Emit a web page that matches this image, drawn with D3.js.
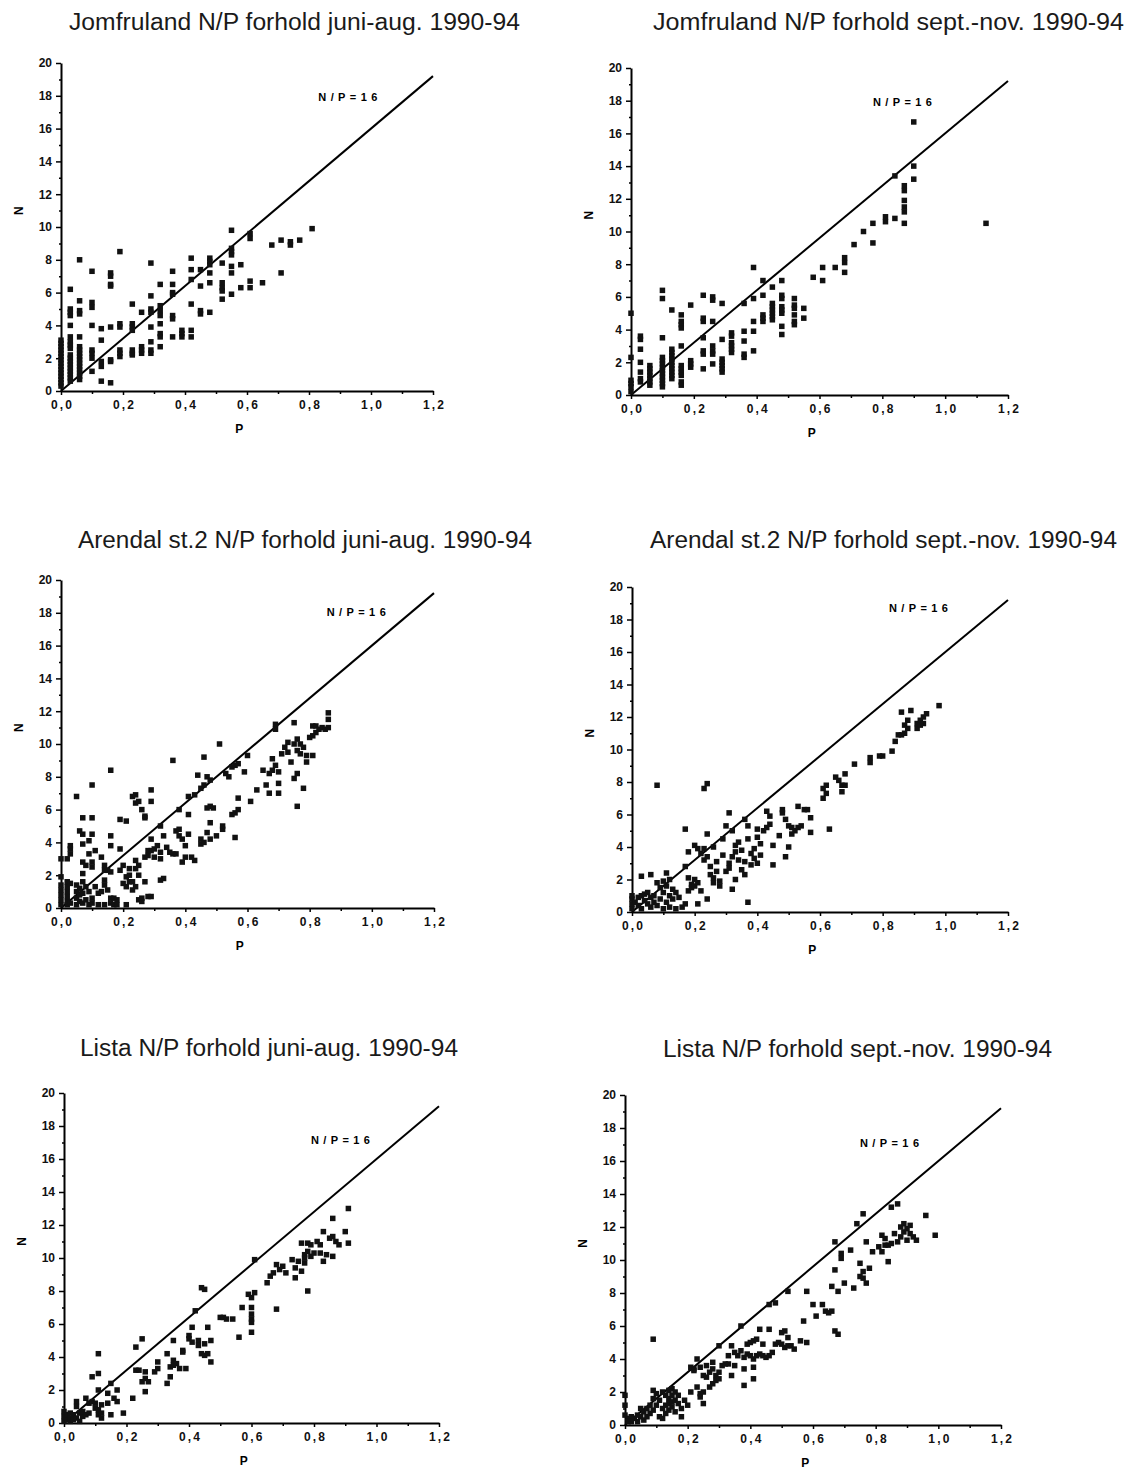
<!DOCTYPE html>
<html>
<head>
<meta charset="utf-8">
<script src="https://cdn.jsdelivr.net/npm/d3@7"></script>
<style>
  body { margin: 0; background: #fff; }
  svg { display: block; }
</style>
</head>
<body>
<svg id="chart" width="1126" height="1471"></svg>
<script>
// N/P ratio scatter plots for three stations, summer and autumn 1990-94
const titles = [
  "Jomfruland N/P forhold juni-aug. 1990-94",
  "Jomfruland N/P forhold sept.-nov. 1990-94",
  "Arendal st.2 N/P forhold juni-aug. 1990-94",
  "Arendal st.2 N/P forhold sept.-nov. 1990-94",
  "Lista N/P forhold juni-aug. 1990-94",
  "Lista N/P forhold sept.-nov. 1990-94"
];
const xTicks = [0, 0.2, 0.4, 0.6, 0.8, 1.0, 1.2];
const yTicks = [0, 2, 4, 6, 8, 10, 12, 14, 16, 18, 20];
const xLabel = "P";
const yLabel = "N";
const ratioNP = 16;
const ratioLabel = "N/P=16";

// [P, N] pairs
const jomfrulandSummer = [
  [0,0.3],[0,0.5],[0,0.7],[0,0.9],[0,1.1],[0,1.3],[0,1.5],[0,1.7],[0,1.9],[0,2.1],[0,2.3],[0,2.5],[0,2.7],[0,2.9],[0,3.1],
  [0.03,6.2],[0.03,5.0],[0.03,4.8],[0.03,4.6],[0.03,4.0],[0.03,3.3],[0.03,3.0],[0.03,2.8],[0.03,2.6],[0.03,2.2],[0.03,2.0],[0.03,1.8],[0.03,1.6],[0.03,1.4],[0.03,1.2],[0.03,1.0],[0.03,0.8],[0.03,0.6],
  [0.06,8.0],[0.06,5.5],[0.06,4.9],[0.06,4.7],[0.06,3.3],[0.06,2.7],[0.06,2.5],[0.06,2.3],[0.06,2.1],[0.06,1.9],[0.06,1.7],[0.06,1.5],[0.06,1.3],[0.06,1.1],[0.06,0.9],[0.06,0.7],
  [0.10,7.3],[0.10,5.4],[0.10,5.1],[0.10,4.0],[0.10,2.5],[0.10,2.3],[0.10,2.0],[0.10,1.2],
  [0.13,3.8],[0.13,3.1],[0.13,1.8],[0.13,1.5],[0.13,0.6],
  [0.16,7.2],[0.16,7.0],[0.16,6.5],[0.16,6.4],[0.16,3.9],[0.16,1.9],[0.16,1.8],[0.16,0.5],
  [0.19,8.5],[0.19,4.1],[0.19,3.9],[0.19,2.5],[0.19,2.3],[0.19,2.1],
  [0.23,5.3],[0.23,4.1],[0.23,3.9],[0.23,3.7],[0.23,2.5],[0.23,2.3],[0.23,2.2],
  [0.26,4.8],[0.26,2.7],[0.26,2.5],[0.26,2.3],
  [0.29,7.8],[0.29,5.8],[0.29,5.0],[0.29,4.8],[0.29,3.9],[0.29,3.0],[0.29,2.5],[0.29,2.3],
  [0.32,6.5],[0.32,5.2],[0.32,4.9],[0.32,4.6],[0.32,4.1],[0.32,3.5],[0.32,3.3],[0.32,2.7],
  [0.36,7.3],[0.36,6.5],[0.36,6.0],[0.36,5.9],[0.36,4.6],[0.36,4.4],[0.36,3.3],
  [0.39,3.7],[0.39,3.5],[0.39,3.3],
  [0.42,8.1],[0.42,7.4],[0.42,6.8],[0.42,5.3],[0.42,3.7],[0.42,3.3],
  [0.45,7.4],[0.45,6.4],[0.45,4.9],[0.45,4.7],
  [0.48,8.1],[0.48,7.9],[0.48,7.7],[0.48,7.2],[0.48,6.6],[0.48,4.8],
  [0.52,7.8],[0.52,6.6],[0.52,6.3],[0.52,6.1],[0.52,5.6],
  [0.55,9.8],[0.55,8.7],[0.55,8.5],[0.55,8.3],[0.55,7.6],[0.55,7.2],[0.55,5.9],
  [0.58,7.7],[0.58,6.3],
  [0.61,9.6],[0.61,9.3],[0.61,6.7],[0.61,6.3],
  [0.65,6.6],[0.68,8.9],[0.71,9.2],[0.71,7.2],[0.74,9.1],[0.74,8.9],[0.77,9.2],[0.81,9.9]
];

const jomfrulandAutumn = [
  [0,5.0],[0,2.3],[0,0.9],[0,0.7],[0,0.5],[0,0.2],
  [0.03,3.6],[0.03,3.4],[0.03,2.8],[0.03,2.0],[0.03,1.4],[0.03,1.0],[0.03,0.8],
  [0.06,1.8],[0.06,1.6],[0.06,1.4],[0.06,1.2],[0.06,1.0],[0.06,0.8],[0.06,0.6],
  [0.10,6.4],[0.10,5.9],[0.10,3.5],[0.10,2.3],[0.10,2.1],[0.10,1.9],[0.10,1.7],[0.10,1.5],[0.10,1.3],[0.10,1.1],[0.10,0.9],[0.10,0.7],[0.10,0.5],
  [0.13,5.2],[0.13,2.8],[0.13,2.6],[0.13,2.4],[0.13,2.2],[0.13,2.0],[0.13,1.8],[0.13,1.6],[0.13,1.4],[0.13,1.2],[0.13,1.0],
  [0.16,4.9],[0.16,4.5],[0.16,4.3],[0.16,4.1],[0.16,3.0],[0.16,1.8],[0.16,1.6],[0.16,1.4],[0.16,1.2],[0.16,0.8],[0.16,0.6],
  [0.19,5.5],[0.19,2.1],[0.19,1.9],[0.19,1.7],
  [0.23,6.1],[0.23,4.7],[0.23,4.5],[0.23,3.5],[0.23,2.7],[0.23,2.5],[0.23,1.6],
  [0.26,6.0],[0.26,5.8],[0.26,4.5],[0.26,3.0],[0.26,2.7],[0.26,2.5],[0.26,1.9],
  [0.29,5.6],[0.29,3.4],[0.29,2.2],[0.29,2.0],[0.29,1.8],[0.29,1.6],[0.29,1.4],
  [0.32,3.8],[0.32,3.6],[0.32,3.2],[0.32,3.0],[0.32,2.8],[0.32,2.6],
  [0.36,5.6],[0.36,3.9],[0.36,3.3],[0.36,2.5],[0.36,2.3],
  [0.39,7.8],[0.39,5.9],[0.39,4.5],[0.39,3.9],[0.39,2.7],
  [0.42,7.0],[0.42,6.1],[0.42,4.9],[0.42,4.7],[0.42,4.5],
  [0.45,6.6],[0.45,5.6],[0.45,5.4],[0.45,5.2],[0.45,5.0],[0.45,4.8],[0.45,4.6],
  [0.48,7.0],[0.48,6.1],[0.48,5.9],[0.48,5.4],[0.48,5.2],[0.48,5.0],[0.48,4.2],[0.48,3.7],
  [0.52,5.9],[0.52,5.5],[0.52,5.3],[0.52,4.9],[0.52,4.5],[0.52,4.3],
  [0.55,5.3],[0.55,4.7],
  [0.58,7.2],[0.61,7.8],[0.61,7.0],[0.65,7.8],[0.68,8.4],[0.68,8.1],[0.68,7.5],[0.71,9.2],
  [0.74,10.0],[0.77,10.5],[0.77,9.3],[0.81,10.9],[0.81,10.6],[0.84,13.4],[0.84,10.8],
  [0.87,12.8],[0.87,12.5],[0.87,11.9],[0.87,11.5],[0.87,11.2],[0.87,10.5],
  [0.90,16.7],[0.90,14.0],[0.90,13.2],[1.13,10.5]
];

const arendalSummer = [
  [0,0.2],[0,0.5],[0,0.8],[0,1.1],[0,1.4],[0,1.9],[0,3.0],
  [0.02,0.2],[0.02,0.4],[0.02,0.7],[0.02,1.0],[0.02,1.3],[0.02,1.6],[0.02,3.0],
  [0.03,3.3],[0.03,3.6],[0.03,3.8],[0.03,1.5],[0.03,0.3],
  [0.05,6.8],[0.05,0.2],[0.05,0.6],[0.05,1.0],[0.05,1.4],
  [0.06,4.7],[0.06,1.2],[0.06,0.4],[0.06,0.8],
  [0.07,5.5],[0.07,4.5],[0.07,3.9],[0.07,2.8],[0.07,2.1],[0.07,1.6],[0.07,0.3],[0.07,0.9],
  [0.08,1.3],[0.08,0.5],[0.08,2.6],
  [0.09,3.3],[0.09,4.1],[0.09,1.0],[0.09,0.2],
  [0.10,7.5],[0.10,5.5],[0.10,4.5],[0.10,2.8],[0.10,2.5],[0.10,0.6],[0.10,0.3],
  [0.11,3.5],[0.11,1.3],[0.12,0.2],[0.12,0.9],
  [0.13,3.1],[0.13,1.0],[0.14,2.6],[0.14,2.3],[0.14,1.7],[0.14,1.4],[0.14,0.2],
  [0.15,1.1],[0.15,2.3],[0.16,8.4],[0.16,4.4],[0.16,3.8],[0.16,2.2],[0.16,0.6],[0.16,0.3],
  [0.17,0.6],[0.17,0.2],[0.18,0.5],[0.18,0.2],
  [0.19,5.4],[0.19,3.6],[0.19,2.3],[0.20,1.5],[0.20,2.6],[0.21,5.3],[0.21,0.2],[0.21,1.9],[0.21,1.3],
  [0.22,2.0],[0.22,1.6],[0.22,2.4],[0.23,6.8],[0.23,1.1],[0.23,1.6],
  [0.24,6.9],[0.24,6.4],[0.24,2.9],[0.24,2.4],[0.24,1.3],[0.25,6.5],[0.25,0.5],[0.25,2.0],[0.25,2.6],
  [0.26,6.0],[0.26,0.4],[0.26,0.6],[0.27,5.6],[0.27,5.5],[0.27,1.6],[0.27,3.1],
  [0.28,3.5],[0.28,3.2],[0.28,0.7],[0.29,7.2],[0.29,6.5],[0.29,4.2],[0.29,3.5],[0.29,0.7],
  [0.30,3.6],[0.30,3.1],[0.31,3.8],[0.32,3.0],[0.32,3.4],[0.32,5.0],[0.32,1.7],[0.33,4.4],[0.33,1.8],
  [0.34,3.7],[0.35,3.4],[0.36,9.0],[0.36,3.3],[0.37,3.3],[0.37,4.7],[0.38,4.8],[0.38,6.0],[0.38,4.4],
  [0.39,2.8],[0.39,4.2],[0.40,3.8],[0.40,3.1],[0.41,5.7],[0.41,4.5],[0.41,6.8],[0.42,3.1],[0.43,6.9],[0.43,2.9],
  [0.44,8.1],[0.45,7.3],[0.45,4.2],[0.45,3.9],[0.46,9.2],[0.46,7.5],[0.46,4.0],[0.47,8.0],[0.47,4.6],[0.47,6.1],
  [0.48,7.8],[0.48,6.2],[0.48,5.2],[0.48,4.2],
  [0.49,6.1],[0.50,4.4],[0.51,10.0],[0.52,4.8],[0.52,5.0],[0.53,8.2],[0.54,8.0],[0.55,5.7],[0.55,8.6],
  [0.56,4.3],[0.56,5.8],[0.56,8.7],[0.57,6.7],[0.57,6.0],[0.57,8.8],
  [0.59,8.3],[0.60,9.3],[0.61,6.5],[0.63,7.2],[0.65,8.4],[0.66,7.5],[0.67,8.2],[0.67,7.0],[0.68,9.1],[0.68,8.4],
  [0.69,11.2],[0.69,10.9],[0.69,8.7],[0.70,7.6],[0.70,7.0],[0.70,8.3],
  [0.71,9.4],[0.72,9.8],[0.73,9.5],[0.73,10.1],[0.74,8.9],[0.75,11.3],[0.75,10.0],[0.75,7.9],
  [0.76,9.6],[0.76,10.3],[0.76,8.2],[0.76,6.2],[0.77,9.4],[0.77,10.0],[0.78,7.3],[0.78,9.8],[0.79,9.3],[0.79,8.9],
  [0.80,10.4],[0.81,10.5],[0.81,11.1],[0.81,9.3],[0.82,11.1],[0.82,10.7],[0.83,10.9],[0.84,11.0],[0.85,10.9],
  [0.86,11.9],[0.86,11.5],[0.86,11.0]
];

const arendalAutumn = [
  [0,0.2],[0,0.5],[0,0.8],[0,1.0],[0.01,0.6],[0.02,0.9],[0.02,0.4],[0.03,2.2],[0.03,1.0],[0.03,0.2],
  [0.04,0.7],[0.04,1.1],[0.05,0.5],[0.05,1.2],[0.06,2.3],[0.06,0.9],[0.06,0.3],[0.07,0.6],[0.07,1.0],
  [0.08,7.8],[0.08,1.8],[0.08,0.4],[0.09,0.8],[0.09,1.5],[0.10,1.9],[0.10,0.2],[0.10,1.2],
  [0.11,2.4],[0.11,0.6],[0.11,1.6],[0.12,2.0],[0.12,1.0],[0.12,0.3],[0.13,1.4],[0.13,0.8],
  [0.14,1.2],[0.14,0.2],[0.15,0.9],[0.16,0.3],[0.17,0.5],
  [0.17,5.1],[0.17,2.8],[0.18,3.7],[0.18,2.1],[0.18,1.3],[0.19,1.7],[0.19,1.5],[0.20,4.1],[0.20,2.0],[0.20,1.6],
  [0.21,3.9],[0.21,1.8],[0.21,0.5],[0.22,3.6],[0.22,1.3],[0.23,7.6],[0.23,3.9],[0.23,3.2],
  [0.24,7.9],[0.24,3.4],[0.24,4.8],[0.24,0.8],[0.25,2.3],[0.25,2.8],[0.26,4.0],[0.26,2.1],[0.26,1.8],
  [0.27,2.5],[0.27,3.1],[0.28,1.6],[0.28,1.9],[0.29,3.5],[0.29,4.5],[0.30,5.3],[0.30,2.5],
  [0.31,6.1],[0.31,3.0],[0.31,2.7],[0.32,5.0],[0.32,3.4],[0.32,1.4],[0.33,4.1],[0.33,3.7],[0.33,2.0],
  [0.34,4.3],[0.34,3.2],[0.35,2.6],[0.35,3.8],[0.36,5.7],[0.36,3.1],[0.36,2.3],[0.37,4.5],[0.37,0.6],[0.37,5.3],
  [0.38,3.6],[0.38,2.9],[0.39,3.3],[0.39,3.9],[0.40,5.1],[0.40,4.6],[0.40,3.0],[0.41,4.2],[0.41,3.5],
  [0.42,5.0],[0.43,5.2],[0.43,6.2],[0.44,5.9],[0.44,5.4],[0.45,2.9],[0.45,4.1],[0.47,4.7],
  [0.48,6.1],[0.48,6.3],[0.49,5.7],[0.49,3.4],[0.50,4.0],[0.50,5.3],[0.51,4.8],[0.51,5.2],[0.52,5.0],
  [0.53,6.5],[0.53,5.2],[0.54,5.3],[0.55,6.3],[0.56,6.3],[0.57,5.8],[0.57,4.9],
  [0.61,7.0],[0.61,7.6],[0.62,7.3],[0.62,7.8],[0.63,5.1],[0.65,8.3],[0.66,8.1],[0.67,7.4],[0.67,7.8],
  [0.68,8.5],[0.68,7.8],[0.71,9.1],[0.76,9.2],[0.76,9.5],[0.79,9.6],[0.80,9.6],[0.83,9.9],[0.84,10.5],
  [0.85,10.9],[0.86,10.9],[0.86,12.3],[0.87,11.0],[0.87,11.5],[0.88,11.8],[0.88,11.3],[0.89,12.4],
  [0.91,11.3],[0.91,11.6],[0.92,11.8],[0.92,11.5],[0.93,12.0],[0.93,11.6],[0.94,12.2],[0.98,12.7]
];

const listaSummer = [
  [0,0.1],[0,0.4],[0,0.7],[0.01,0.2],[0.01,0.5],[0.02,0.1],[0.02,0.3],[0.02,0.6],[0.03,0.2],[0.03,0.5],
  [0.04,1.3],[0.04,1.0],[0.04,0.3],[0.05,0.6],[0.05,0.1],[0.06,0.4],[0.06,0.7],[0.07,1.5],[0.07,0.5],
  [0.08,0.6],[0.08,1.2],[0.09,2.8],[0.09,1.3],[0.10,1.2],[0.10,0.9],
  [0.11,4.2],[0.11,3.0],[0.11,2.0],[0.11,0.8],[0.11,0.5],[0.12,1.1],[0.12,0.3],[0.12,0.6],
  [0.14,1.8],[0.14,1.2],[0.15,2.4],[0.15,0.5],[0.16,1.5],[0.17,2.0],[0.17,1.3],[0.19,0.6],
  [0.22,1.5],[0.23,4.6],[0.23,3.2],[0.24,3.2],[0.25,5.1],[0.25,2.5],[0.26,2.7],[0.26,1.9],[0.26,3.1],[0.27,2.5],
  [0.29,3.1],[0.30,3.3],[0.30,3.7],[0.33,4.2],[0.33,2.4],[0.34,2.8],[0.34,3.4],[0.35,5.0],[0.35,3.8],[0.35,3.5],
  [0.36,3.6],[0.37,3.3],[0.38,4.4],[0.38,4.3],[0.39,3.3],[0.40,5.3],[0.40,5.1],[0.41,5.8],[0.41,4.9],
  [0.42,6.8],[0.43,5.0],[0.43,4.7],[0.44,8.2],[0.44,4.2],[0.45,8.1],[0.45,4.8],[0.45,4.1],
  [0.46,5.8],[0.46,4.2],[0.47,5.0],[0.47,3.7],[0.50,6.4],[0.51,6.4],[0.52,6.3],[0.54,6.3],[0.56,5.2],[0.57,7.0],
  [0.59,7.8],[0.60,7.6],[0.60,7.0],[0.60,6.6],[0.60,6.3],[0.60,6.1],[0.60,5.5],[0.61,9.9],[0.61,7.9],
  [0.65,8.5],[0.66,8.9],[0.67,9.1],[0.68,9.6],[0.68,6.9],[0.69,9.3],[0.70,9.5],[0.71,9.1],
  [0.73,9.9],[0.74,8.8],[0.74,9.4],[0.75,9.8],[0.76,10.9],[0.76,9.2],[0.77,10.2],[0.77,10.0],[0.77,9.7],
  [0.78,10.9],[0.78,10.4],[0.78,8.0],[0.79,10.8],[0.79,10.1],[0.80,10.3],[0.81,11.0],[0.82,10.8],[0.82,10.3],
  [0.83,11.6],[0.83,9.8],[0.84,10.2],[0.85,11.2],[0.86,12.4],[0.86,11.3],[0.86,10.1],[0.87,11.0],[0.88,10.8],
  [0.90,11.6],[0.91,13.0],[0.91,10.9]
];

const listaAutumn = [
  [0,1.8],[0,1.2],[0,0.6],[0.01,0.4],[0.01,0.2],[0.02,0.5],[0.02,0.2],[0.03,0.4],[0.04,0.2],[0.04,0.6],
  [0.05,1.0],[0.05,0.5],[0.06,0.8],[0.06,0.3],[0.07,1.0],[0.07,0.5],[0.08,1.2],[0.08,0.7],
  [0.09,5.2],[0.09,2.1],[0.09,1.6],[0.09,0.9],[0.10,1.9],[0.10,1.2],[0.11,1.5],[0.11,0.5],
  [0.12,2.0],[0.12,1.0],[0.12,0.4],[0.13,1.8],[0.13,1.2],[0.13,0.7],[0.14,2.1],[0.14,1.6],[0.14,1.3],[0.14,0.9],
  [0.15,2.2],[0.15,1.8],[0.15,1.4],[0.15,1.1],[0.16,2.0],[0.16,1.5],[0.16,0.8],[0.17,1.8],[0.17,1.3],
  [0.18,0.5],[0.18,1.0],[0.19,1.5],[0.20,1.2],[0.21,3.5],[0.21,2.0],[0.22,3.4],[0.22,3.3],[0.23,4.0],[0.23,2.3],
  [0.24,1.7],[0.24,1.9],[0.24,3.5],[0.25,1.3],[0.25,2.0],[0.25,3.0],[0.26,2.9],[0.26,3.6],[0.27,3.2],[0.27,2.3],
  [0.28,3.8],[0.28,3.4],[0.28,2.5],[0.29,3.0],[0.29,2.7],[0.30,3.2],[0.30,4.8],[0.30,2.8],[0.31,3.6],[0.32,3.7],
  [0.33,4.2],[0.33,3.7],[0.34,4.8],[0.34,3.0],[0.35,4.4],[0.35,3.6],[0.36,4.2],[0.37,6.0],[0.37,4.5],
  [0.38,3.4],[0.38,2.4],[0.38,4.1],[0.39,4.9],[0.39,4.3],[0.40,5.0],[0.40,4.2],[0.41,5.1],[0.41,4.0],[0.41,3.5],[0.41,2.8],
  [0.42,5.2],[0.42,4.2],[0.43,5.8],[0.43,4.3],[0.44,4.9],[0.44,4.2],[0.45,4.1],[0.46,4.2],[0.46,5.8],[0.46,7.3],
  [0.47,4.4],[0.48,4.9],[0.48,7.4],[0.49,5.0],[0.50,5.6],[0.50,4.9],[0.51,4.7],[0.51,5.7],[0.52,4.8],[0.52,8.1],[0.52,5.3],
  [0.53,4.8],[0.54,4.6],[0.56,5.1],[0.57,6.3],[0.58,8.1],[0.58,5.0],[0.60,7.3],[0.61,6.6],[0.63,7.3],[0.64,6.9],
  [0.65,6.8],[0.66,6.9],[0.66,8.4],[0.67,11.1],[0.67,9.4],[0.67,5.7],[0.68,5.5],[0.68,8.1],[0.69,10.4],[0.69,10.1],
  [0.70,8.6],[0.72,10.6],[0.73,8.3],[0.74,12.2],[0.75,9.8],[0.75,9.0],[0.76,12.8],[0.76,9.3],[0.76,8.9],
  [0.77,11.1],[0.77,8.6],[0.78,9.5],[0.79,10.5],[0.81,10.8],[0.82,11.5],[0.82,10.5],[0.83,10.9],[0.83,11.3],
  [0.84,10.9],[0.84,9.9],[0.85,13.2],[0.85,11.0],[0.86,11.6],[0.87,13.4],[0.87,11.1],[0.88,12.0],[0.88,11.4],
  [0.89,12.2],[0.89,11.7],[0.90,11.9],[0.90,11.2],[0.91,12.1],[0.91,11.6],[0.92,11.4],[0.93,11.2],[0.96,12.7],[0.99,11.5]
];

// Page layout of the six panels (pixel frames and label anchors)
const panels = [
  { title: titles[0], data: jomfrulandSummer, left: 61,  right: 433,  top: 63,   bottom: 391,  titleX: 69,  titleW: 451, titleY: 30,   lab: [0.83, 17.9] },
  { title: titles[1], data: jomfrulandAutumn, left: 631, right: 1008, top: 68,   bottom: 395,  titleX: 653, titleW: 471, titleY: 30,   lab: [0.77, 17.9] },
  { title: titles[2], data: arendalSummer,    left: 61,  right: 434,  top: 580,  bottom: 908,  titleX: 78,  titleW: 454, titleY: 548,  lab: [0.855, 18.05] },
  { title: titles[3], data: arendalAutumn,    left: 632, right: 1008, top: 587,  bottom: 912,  titleX: 650, titleW: 467, titleY: 548,  lab: [0.82, 18.7] },
  { title: titles[4], data: listaSummer,      left: 64,  right: 439,  top: 1093, bottom: 1423, titleX: 80,  titleW: 378, titleY: 1056, lab: [0.79, 17.15] },
  { title: titles[5], data: listaAutumn,      left: 625, right: 1001, top: 1095, bottom: 1425, titleX: 663, titleW: 389, titleY: 1057, lab: [0.75, 17.1] }
];

const svg = d3.select("#chart");
const FONT = "'Liberation Sans', Arial, Helvetica, sans-serif";
const fmt = d => d.toFixed(1).replace(".", ",");
const markSize = 5.5;

panels.forEach(p => {
  const x = d3.scaleLinear().domain([0, 1.2]).range([p.left, p.right]);
  const y = d3.scaleLinear().domain([0, 20]).range([p.bottom, p.top]);
  const g = svg.append("g");

  // title
  g.append("text")
    .attr("x", p.titleX).attr("y", p.titleY)
    .attr("textLength", p.titleW).attr("lengthAdjust", "spacingAndGlyphs")
    .style("font-family", FONT).style("font-size", "23px").attr("fill", "#1a1a1a")
    .text(p.title);

  // minor ticks
  const minorX = d3.range(1, 12, 2).map(i => i / 10);
  const minorY = d3.range(1, 20, 2);
  g.append("g").attr("transform", `translate(0,${p.bottom})`)
    .call(d3.axisBottom(x).tickValues(minorX).tickSize(3).tickFormat(""))
    .call(a => a.select(".domain").remove())
    .selectAll("line").attr("stroke-width", 1.5);
  g.append("g").attr("transform", `translate(${p.left},0)`)
    .call(d3.axisLeft(y).tickValues(minorY).tickSize(2).tickFormat(""))
    .call(a => a.select(".domain").remove())
    .selectAll("line").attr("stroke-width", 1.5);

  // x axis
  const xa = g.append("g").attr("transform", `translate(0,${p.bottom})`)
    .call(d3.axisBottom(x).tickValues(xTicks).tickSize(4).tickSizeOuter(0).tickPadding(5).tickFormat(fmt));
  xa.select(".domain").attr("stroke-width", 2);
  xa.selectAll(".tick line").attr("stroke-width", 1.5);
  xa.selectAll("text")
    .style("font-family", FONT).style("font-size", "12px").style("font-weight", "bold")
    .attr("textLength", 21).attr("lengthAdjust", "spacing").attr("fill", "#111");

  // y axis
  const ya = g.append("g").attr("transform", `translate(${p.left},0)`)
    .call(d3.axisLeft(y).tickValues(yTicks).tickSize(5).tickSizeOuter(0).tickPadding(4).tickFormat(d3.format("d")));
  ya.select(".domain").attr("stroke-width", 2);
  ya.selectAll(".tick line").attr("stroke-width", 1.5);
  ya.selectAll("text")
    .style("font-family", FONT).style("font-size", "12px").style("font-weight", "bold").attr("fill", "#111");

  // axis titles
  g.append("text")
    .attr("x", x(0.575)).attr("y", p.bottom + 42)
    .attr("text-anchor", "middle")
    .style("font-family", FONT).style("font-size", "12px").style("font-weight", "bold")
    .text(xLabel);
  g.append("text")
    .attr("transform", `translate(${p.left - 42},${y(11)}) rotate(-90)`)
    .attr("text-anchor", "middle").attr("dy", "0.35em")
    .style("font-family", FONT).style("font-size", "12px").style("font-weight", "bold")
    .text(yLabel);

  // N/P = 16 reference line
  g.append("line")
    .attr("x1", x(0)).attr("y1", y(0))
    .attr("x2", x(1.2)).attr("y2", y(1.2 * ratioNP))
    .attr("stroke", "#000").attr("stroke-width", 2);
  g.append("text")
    .attr("x", x(p.lab[0])).attr("y", y(p.lab[1])).attr("dy", "0.35em")
    .attr("textLength", 59).attr("lengthAdjust", "spacing")
    .style("font-family", FONT).style("font-size", "11px").style("font-weight", "bold")
    .text(ratioLabel);

  // observations
  g.append("g").selectAll("rect").data(p.data).join("rect")
    .attr("x", d => x(d[0]) - markSize / 2)
    .attr("y", d => y(d[1]) - markSize / 2)
    .attr("width", markSize).attr("height", markSize)
    .attr("fill", "#111");
});
</script>
</body>
</html>
